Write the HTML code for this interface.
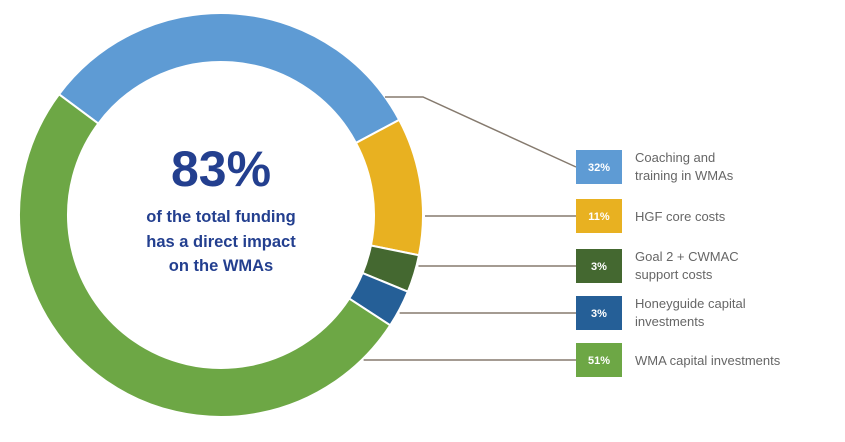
<!DOCTYPE html>
<html><head><meta charset="utf-8"><style>
html,body{margin:0;padding:0;background:#fff;width:845px;height:442px;overflow:hidden}
svg{display:block}
</style></head><body>
<svg id="chart" width="845" height="442">
<g id="slices"></g>
<g id="leaders"></g>
<g id="legend"></g>
<text x="221" y="186" text-anchor="middle" font-family="Liberation Sans, sans-serif" font-weight="bold" font-size="50" fill="#233f8f">83%</text>
<g font-family="Liberation Sans, sans-serif" font-weight="bold" font-size="16.5" fill="#233f8f" text-anchor="middle">
<text x="221" y="222">of the total funding</text>
<text x="221" y="247">has a direct impact</text>
<text x="221" y="271">on the WMAs</text>
</g>
</svg>
<script>
const categories = ["Coaching and|training in WMAs","HGF core costs","Goal 2 + CWMAC|support costs","Honeyguide capital|investments","WMA capital investments"];
const values = [32, 11, 3, 3, 51];
const labels = ["32%","11%","3%","3%","51%"];
const colors = ["#5e9bd4","#e8b121","#446830","#255f97","#6da745"];
const NS="http://www.w3.org/2000/svg";
const cx=221, cy=215, R=202, r=153, start=-53.3;
const total=values.reduce((a,b)=>a+b,0);
function pt(ang,rad){const a=ang*Math.PI/180;return [cx+rad*Math.sin(a), cy-rad*Math.cos(a)];}
const sg=document.getElementById('slices'), lg=document.getElementById('leaders'), leg=document.getElementById('legend');
let a0=start;
const boxY=[150,199,249,296,343];
values.forEach((v,i)=>{
  const a1=a0+v/total*360;
  const [x0,y0]=pt(a0,R),[x1,y1]=pt(a1,R),[x2,y2]=pt(a1,r),[x3,y3]=pt(a0,r);
  const large=(a1-a0)>180?1:0;
  const p=document.createElementNS(NS,'path');
  p.setAttribute('d',`M${x0},${y0} A${R},${R} 0 ${large} 1 ${x1},${y1} L${x2},${y2} A${r},${r} 0 ${large} 0 ${x3},${y3} Z`);
  p.setAttribute('fill',colors[i]);p.setAttribute('stroke','#fff');p.setAttribute('stroke-width','2');
  
  
  sg.appendChild(p);
  const by=boxY[i]+17;
  const ln=document.createElementNS(NS,'polyline');
  let pts;
  if(i===0){const sy=97;const sx=cx+Math.sqrt(R*R-(sy-cy)*(sy-cy));pts=`${sx},${sy} 423,${sy} 576,${by}`;}
  else{
    const ey=by, ex=cx+Math.sqrt(Math.max(0,R*R-(by-cy)*(by-cy)));
    pts=`${ex+2},${ey} 576,${ey}`;
  }
  ln.setAttribute('points',pts);ln.setAttribute('fill','none');ln.setAttribute('stroke','#857a6e');ln.setAttribute('stroke-width','1.5');
  
  
  lg.appendChild(ln);
  const rc=document.createElementNS(NS,'rect');
  rc.setAttribute('x',576);rc.setAttribute('y',boxY[i]);rc.setAttribute('width',46);rc.setAttribute('height',34);rc.setAttribute('fill',colors[i]);
  
  
  leg.appendChild(rc);
  const t=document.createElementNS(NS,'text');
  t.setAttribute('x',599);t.setAttribute('y',boxY[i]+21);t.setAttribute('text-anchor','middle');
  t.setAttribute('font-family','Liberation Sans, sans-serif');t.setAttribute('font-weight','bold');t.setAttribute('font-size','11');t.setAttribute('fill','#fff');
  t.textContent=labels[i];
  
  
  leg.appendChild(t);
  const parts=categories[i].split('|');
  parts.forEach((s,j)=>{
    const tt=document.createElementNS(NS,'text');
    const yy=parts.length===1?boxY[i]+22:boxY[i]+12+j*18;
    tt.setAttribute('x',635);tt.setAttribute('y',yy);
    tt.setAttribute('font-family','Liberation Sans, sans-serif');tt.setAttribute('font-size','13');tt.setAttribute('fill','#666');
    tt.textContent=s;
    
    
    leg.appendChild(tt);
  });
  a0=a1;
});
</script>
</body></html>
